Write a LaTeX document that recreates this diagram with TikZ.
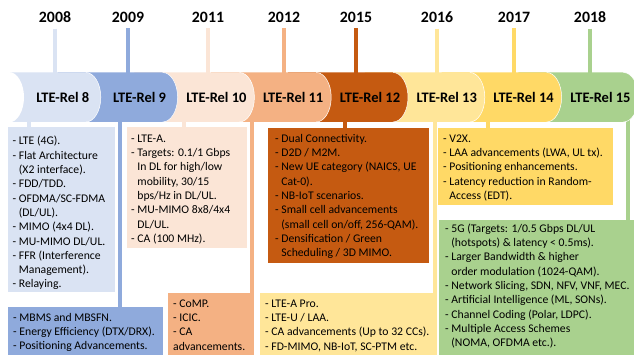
\documentclass[tikz,border=0pt]{standalone}
\usepackage{fontspec}
\setmainfont{Carlito}
\definecolor{r8}{HTML}{DAE3F3}
\definecolor{r9}{HTML}{8FAADC}
\definecolor{r10}{HTML}{FBE5D6}
\definecolor{r11}{HTML}{F4B183}
\definecolor{r12}{HTML}{C55A11}
\definecolor{r13}{HTML}{FFE699}
\definecolor{r14}{HTML}{FFD966}
\definecolor{r15}{HTML}{A9D18E}
\newcommand\contind{\hphantom{- }}
\begin{document}
\begin{tikzpicture}[x=1pt,y=-1pt,
  year/.style={inner sep=0pt, font=\fontsize{15.8}{18}\selectfont\bfseries},
  rel/.style={inner sep=0pt, font=\fontsize{14.5}{17}\selectfont\bfseries},
  box/.style={draw=none, inner sep=0pt, outer sep=0pt, anchor=north west},
  txt/.style={inner sep=0pt, anchor=north west, font=\fontsize{11.7}{14.3}\selectfont},
  link/.style={line width=4pt},
  seg/.style={draw=white, line width=0.5pt},
]
\fill[white] (0,0) rectangle (634,355);
\useasboundingbox (0,0) rectangle (634,355);

% band limits
\coordinate (bandtop) at (0,80);

% release years with their ticks
\foreach \x/\yr/\col in {55/2008/r8, 128/2009/r9, 208/2011/r10, 284/2012/r11,
                         356/2015/r12, 437/2016/r13, 514/2017/r14, 590/2018/r15}{
  \node[year] (y\yr) at (\x,17) {\yr};
  \draw[link, \col] ([yshift=-6pt]y\yr.south) -- (y\yr.south |- bandtop);
}

% boxes with the features of each release
\node[box, fill=r8,  minimum width=107pt, minimum height=165pt] (b8)  at (8,127) {};
\node[box, fill=r9,  minimum width=155pt, minimum height=48pt]  (b9)  at (8,307) {};
\node[box, fill=r10, minimum width=120pt, minimum height=121pt] (b10) at (127,127) {};
\node[box, fill=r11, minimum width=86pt,  minimum height=62pt]  (b11) at (168,293) {};
\node[box, fill=r12, minimum width=161pt, minimum height=135pt] (b12) at (268,128) {};
\node[box, fill=r13, minimum width=177pt, minimum height=62pt]  (b13) at (260,293) {};
\node[box, fill=r14, minimum width=175pt, minimum height=77pt]  (b14) at (438,128) {};
\node[box, fill=r15, minimum width=195pt, minimum height=135pt] (b15) at (439,220) {};

% connectors from the band down to the boxes
\foreach \n/\x in {8/29, 9/120, 10/184, 11/252, 12/345, 13/435, 14/488, 15/628}{
  \coordinate (c\n) at (\x,115);
  \draw[link, r\n] (c\n) -- ([yshift=-1pt]c\n |- b\n.north);
}

% the release band, drawn from the right so each rounded end overlaps the next
\foreach \R/\n in {638.4/15, 561.6/14, 484.8/13, 408/12, 331.2/11, 254.4/10, 177.6/9, 100.8/8}{
  \fill[r\n] ({\R-120},72.5) -- ({\R-15},72.5)
     .. controls ({\R-6.72},72.5) and (\R,83.58) .. (\R,97.25)
     .. controls (\R,110.92) and ({\R-6.72},122) .. ({\R-15},122)
     -- ({\R-120},122) -- cycle;
  \draw[seg] ({\R-15},72.5)
     .. controls ({\R-6.72},72.5) and (\R,83.58) .. (\R,97.25)
     .. controls (\R,110.92) and ({\R-6.72},122) .. ({\R-15},122);
  \node[rel] (rel\n) at ({\R-38},97.25) {LTE-Rel \n};
}
% white rounded cut at the left end of the band
\fill[white] (-5,72) -- (9,72)
   .. controls (17.3,72) and (24,83.58) .. (24,97.25)
   .. controls (24,110.92) and (17.3,122.5) .. (9,122.5) -- (-5,122.5) -- cycle;

% feature lists
\node[txt] (t8) at (12.5,134.7) {\begin{tabular}{@{}l@{}}
- LTE (4G).\\
- Flat Architecture\\
\contind(X2 interface).\\
- FDD/TDD.\\
- OFDMA/SC-FDMA\\
\contind(DL/UL).\\
- MIMO (4x4 DL).\\
- MU-MIMO DL/UL.\\
- FFR (Interference\\
\contind Management).\\
- Relaying.
\end{tabular}};
\node[txt] (t9) at (13,311) {\begin{tabular}{@{}l@{}}
- MBMS and MBSFN.\\
- Energy Efficiency (DTX/DRX).\\
- Positioning Advancements.
\end{tabular}};
\node[txt] (t10) at (131,132) {\begin{tabular}{@{}l@{}}
- LTE-A.\\
- Targets: 0.1/1 Gbps\\
\contind In DL for high/low\\
\contind mobility, 30/15\\
\contind bps/Hz in DL/UL.\\
- MU-MIMO 8x8/4x4\\
\contind DL/UL.\\
- CA (100 MHz).
\end{tabular}};
\node[txt] (t11) at (173,297) {\begin{tabular}{@{}l@{}}
- CoMP.\\
- ICIC.\\
- CA\\
advancements.
\end{tabular}};
\node[txt] (t12) at (275,132) {\begin{tabular}{@{}l@{}}
- Dual Connectivity.\\
- D2D / M2M.\\
- New UE category (NAICS, UE\\
\contind Cat-0).\\
- NB-IoT scenarios.\\
- Small cell advancements\\
\contind(small cell on/off, 256-QAM).\\
- Densification / Green\\
\contind Scheduling / 3D MIMO.
\end{tabular}};
\node[txt] (t13) at (265,297) {\begin{tabular}{@{}l@{}}
- LTE-A Pro.\\
- LTE-U / LAA.\\
- CA advancements (Up to 32 CCs).\\
- FD-MIMO, NB-IoT, SC-PTM etc.
\end{tabular}};
\node[txt] (t14) at (443,132) {\begin{tabular}{@{}l@{}}
- V2X.\\
- LAA advancements (LWA, UL tx).\\
- Positioning enhancements.\\
- Latency reduction in Random-\\
\contind Access (EDT).
\end{tabular}};
\node[txt] (t15) at (445,222) {\begin{tabular}{@{}l@{}}
- 5G (Targets: 1/0.5 Gbps DL/UL\\
\contind(hotspots) \& latency < 0.5ms).\\
- Larger Bandwidth \& higher\\
\contind order modulation (1024-QAM).\\
- Network Slicing, SDN, NFV, VNF, MEC.\\
- Artificial Intelligence (ML, SONs).\\
- Channel Coding (Polar, LDPC).\\
- Multiple Access Schemes\\
\contind(NOMA, OFDMA etc.).
\end{tabular}};
\end{tikzpicture}
\end{document}
